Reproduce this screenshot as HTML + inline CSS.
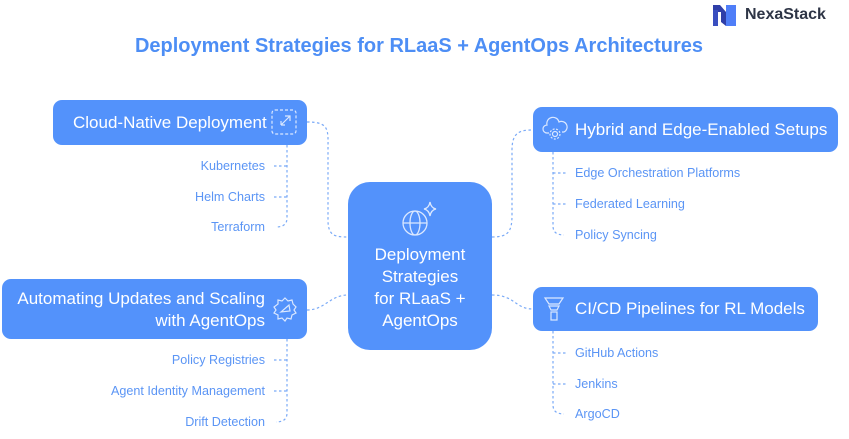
<!DOCTYPE html>
<html><head><meta charset="utf-8"><style>
body{margin:0;width:849px;height:439px;background:#fff;position:relative;overflow:hidden;font-family:"Liberation Sans",sans-serif}
.b{position:absolute;background:#5392fb;border-radius:9px;color:#fff;box-sizing:border-box;white-space:nowrap}
.t{position:absolute;color:#5b95f5;font-size:12.6px;white-space:nowrap}
.r{text-align:right}
</style></head><body>
<div style="position:absolute;left:0;width:838px;top:35px;text-align:center;font-size:20px;font-weight:bold;color:#4d8ef5">Deployment Strategies for RLaaS + AgentOps Architectures</div>
<svg style="position:absolute;left:712px;top:4px" width="28" height="24"><path d="M1 1 L8 1 L14 8 L14 22 L9 18 L9 8 L1 8Z" fill="#2f3ea8"/><path d="M1 6 L6 6 L6 22 L1 22Z" fill="#3a4fc0"/><path d="M14 1 L24 1 L24 22 L14 22 Z" fill="#4f7ef8"/></svg>
<div style="position:absolute;left:745px;top:6px;font-size:16px;font-weight:bold;color:#2e3546">NexaStack</div>
<svg style="position:absolute;left:0;top:0" width="849" height="439" fill="none" stroke="#7aaaf7" stroke-width="1.2" stroke-dasharray="2.5,2.5">
<path d="M307 122 C330 122 328 130 328 150 L328 220 C328 236 335 237 348 237"/>
<path d="M287 145 L287 218 Q287 227 276 227"/><path d="M274 166 H287"/><path d="M274 197 H287"/>
<path d="M307 310 C325 310 330 295 348 295"/>
<path d="M287 339 L287 413 Q287 422 276 422"/><path d="M274 360 H287"/><path d="M274 391 H287"/>
<path d="M492 237 C508 237 512 232 512 215 L512 150 C512 132 520 130 533 130"/>
<path d="M553 152 L553 226 Q553 235 564 235"/><path d="M553 173 H566"/><path d="M553 204 H566"/>
<path d="M492 295 C515 295 515 309 533 309"/>
<path d="M553 331 L553 405 Q553 414 564 414"/><path d="M553 353 H566"/><path d="M553 384 H566"/>
</svg>
<div class="b" style="left:53px;top:100px;width:254px;height:45px;font-size:17px;padding:13px 0 0 20px">Cloud-Native Deployment</div>
<svg style="position:absolute;left:271px;top:109px" width="26" height="26" fill="none" stroke="#dbe8ff" stroke-width="1.2"><rect x="1" y="1" width="24" height="24" rx="3" stroke-dasharray="3,2"/><path d="M10 16 L19 7 M14 7H19V12 M10 16V12 M10 16H14"/></svg>
<div class="t r" style="right:584px;top:159px">Kubernetes</div>
<div class="t r" style="right:584px;top:190px">Helm Charts</div>
<div class="t r" style="right:584px;top:220px">Terraform</div>
<div class="b" style="left:2px;top:279px;width:305px;height:60px;font-size:17px;padding:9px 42px 0 0;text-align:right;line-height:22px">Automating Updates and Scaling<br>with AgentOps</div>
<svg style="position:absolute;left:272px;top:296px" width="26" height="26" fill="none" stroke="#dbe8ff" stroke-width="1.2"><path d="M13 2 L16 5 L20 4 L21 8 L24 11 L22 14 L24 17 L20 19 L19 23 L15 22 L13 25 L10 22 L6 23 L6 19 L2 17 L4 14 L2 11 L6 8 L6 4 L10 5Z"/><path d="M9 16 L17 9 L18 15Z"/></svg>
<div class="t r" style="right:584px;top:353px">Policy Registries</div>
<div class="t r" style="right:584px;top:384px">Agent Identity Management</div>
<div class="t r" style="right:584px;top:415px">Drift Detection</div>
<div class="b" style="left:348px;top:182px;width:144px;height:168px;border-radius:22px;text-align:center;font-size:17px;line-height:22px;padding-top:62px">Deployment<br>Strategies<br>for RLaaS +<br>AgentOps</div>
<svg style="position:absolute;left:398px;top:198px" width="44" height="44" fill="none" stroke="#dbe8ff" stroke-width="1.3"><circle cx="17" cy="25" r="12"/><ellipse cx="17" cy="25" rx="5" ry="12"/><path d="M5 25H29"/><path d="M32 4 Q33 10 38 11 Q33 12 32 18 Q31 12 26 11 Q31 10 32 4Z"/></svg>
<div class="b" style="left:533px;top:107px;width:305px;height:45px;font-size:17px;padding:13px 0 0 42px">Hybrid and Edge-Enabled Setups</div>
<svg style="position:absolute;left:542px;top:116px" width="26" height="26" fill="none" stroke="#dbe8ff" stroke-width="1.2"><path d="M7 17 H5 A4 4 0 0 1 5 9 A6 6 0 0 1 17 6 A5 5 0 0 1 22 16 H20"/><circle cx="13" cy="18" r="2.5"/><circle cx="13" cy="18" r="5" stroke-dasharray="2,1.5"/></svg>
<div class="t" style="left:575px;top:166px">Edge Orchestration Platforms</div>
<div class="t" style="left:575px;top:197px">Federated Learning</div>
<div class="t" style="left:575px;top:228px">Policy Syncing</div>
<div class="b" style="left:533px;top:287px;width:285px;height:44px;font-size:17px;padding:12px 0 0 42px">CI/CD Pipelines for RL Models</div>
<svg style="position:absolute;left:543px;top:296px" width="22" height="26" fill="none" stroke="#dbe8ff" stroke-width="1.2"><path d="M2 2H20L16 8H6Z"/><path d="M6 10H16L14 14H8Z"/><rect x="8" y="16" width="6" height="8"/></svg>
<div class="t" style="left:575px;top:346px">GitHub Actions</div>
<div class="t" style="left:575px;top:377px">Jenkins</div>
<div class="t" style="left:575px;top:407px">ArgoCD</div>
</body></html>
